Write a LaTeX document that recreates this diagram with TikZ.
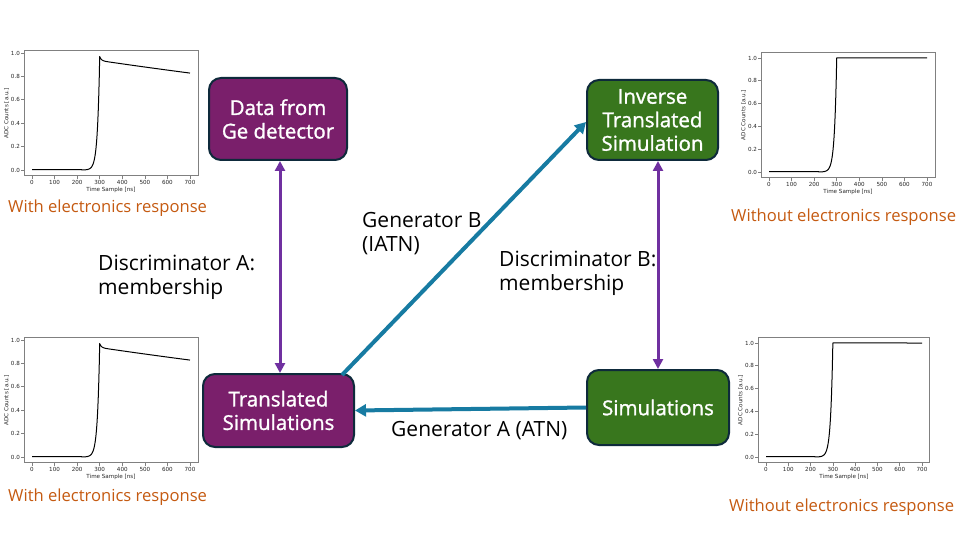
\documentclass[tikz,border=0pt]{standalone}
\usepackage{fontspec}
\setmainfont{Open Sans}
\newfontfamily\boxfont[FakeBold=1.3]{Open Sans}
\newfontfamily\plotfont{DejaVu Sans}
\usetikzlibrary{arrows.meta,calc}
\definecolor{boxpurple}{HTML}{7A1F6B}
\definecolor{boxgreen}{HTML}{38761D}
\definecolor{boxedge}{HTML}{0E2A3B}
\definecolor{arrpurple}{HTML}{7030A0}
\definecolor{arrblue}{HTML}{177BA2}
\definecolor{resp}{HTML}{C55A11}
\definecolor{framegray}{HTML}{808080}

\tikzset{
  procbox/.style={rounded corners=12pt, draw=boxedge, line width=2pt, text=white,
    align=center, inner sep=0pt, font=\boxfont\fontsize{20.5}{23.5}\selectfont},
  purplebox/.style={procbox, fill=boxpurple},
  greenbox/.style={procbox, fill=boxgreen},
  parrow/.style={draw=arrpurple, line width=3pt,
    {Triangle[width=10pt,length=10pt]}-{Triangle[width=10pt,length=10pt]}},
  barrow/.style={draw=arrblue, line width=4pt, -{Triangle[width=12pt,length=11pt]}},
  lbl/.style={inner sep=0pt, align=left, font=\fontsize{21}{24}\selectfont, text=black},
  resplbl/.style={inner sep=0pt, anchor=west, font=\fontsize{16.6}{20}\selectfont, text=resp},
  plotframe/.style={draw=framegray, line width=0.7pt},
  ticklab/.style={inner sep=0pt, font=\plotfont\fontsize{5.6}{6.5}\selectfont, text=black!85},
  curve/.style={draw=black, line width=1pt, line join=round}
}

\newcommand\ecurve{%
  \draw[curve] (0,0.003) -- (220,0.003)
    -- plot[domain=220:300, samples=40] (\x,{0.97*exp((\x-300)/10)})
    -- plot[domain=300:340, samples=30] (\x,{0.935*exp(-(\x-300)/3300)+0.035*exp(-(\x-300)/7)})
    -- plot[domain=340:700, samples=20] (\x,{0.935*exp(-(\x-300)/3300)});}
\newcommand\scurve{%
  \draw[curve] (0,0.003) -- (220,0.003)
    -- plot[domain=220:300, samples=40] (\x,{exp((\x-300)/10)})
    -- (700,1);}

% #1 x px of t=0, #2 y px of v=0, #3 x px of t=700, #4 y px of v=1, #5 ylo, #6 yhi, #7 curve
\newcommand\wplot[7]{%
  \pgfmathsetmacro\sxx{(#3-#1)/700}%
  \pgfmathsetmacro\syy{(#2-#4)}%
  \begin{scope}[shift={(#1,#2)}, x=\sxx pt, y=\syy pt]
    #7
    \draw[plotframe] (-35,#5) rectangle (735,#6);
    \foreach \t in {0,100,...,700} {
      \draw[plotframe] (\t,#5) -- ++(0,-3pt);
      \path (\t,#5) ++(0,-4pt) node[ticklab, anchor=north] {\t};
    }
    \foreach \v in {0.0,0.2,0.4,0.6,0.8,1.0} {
      \draw[plotframe] (-35,\v) -- ++(-3pt,0);
      \path (-35,\v) ++(-4pt,0) node[ticklab, anchor=east] {\v};
    }
    \path (350,#5) ++(0,-11pt) node[ticklab, anchor=north] {Time Sample [ns]};
    \path (-35,{(#5+#6)/2}) ++(-17.5pt,0) node[ticklab, rotate=90] {ADC Counts [a.u.]};
  \end{scope}}

\begin{document}
\begin{tikzpicture}[x=1pt, y=-1pt]
\useasboundingbox[fill=white] (0,0) rectangle (960,540);

% waveform plots
\wplot{32}{170}{190}{53}{-0.0485}{1.0185}{\ecurve}
\wplot{769}{172}{927}{58}{-0.05}{1.05}{\scurve}
\wplot{32}{457}{190}{340}{-0.0485}{1.0185}{\ecurve}
\wplot{766}{457}{922}{343}{-0.05}{1.05}{\scurve}

% boxes
\node[purplebox, minimum width=138pt, minimum height=82pt] (ge) at (278,119) {Data from\\Ge detector};
\node[greenbox, minimum width=131pt, minimum height=80pt] (inv) at (652.5,120) {Inverse\\Translated\\Simulation};
\node[purplebox, minimum width=151pt, minimum height=73pt] (trans) at (278.5,410.5) {Translated\\Simulations};
\node[greenbox, minimum width=142pt, minimum height=75pt] (sim) at (658,407.5) {Simulations};

% connectors
\draw[parrow] ([xshift=2pt]ge.south) -- ([xshift=1.5pt]trans.north);
\draw[parrow] (inv.south -| sim.north) -- (sim.north);
\coordinate (tstart) at ($(trans.north east)+(-13,2)$);
\draw[barrow] (tstart) -- ($(inv.west)+(0,2)$);
\draw[barrow] (sim.west) -- (trans.east);

% labels
\node[lbl, anchor=north west] (genb) at (362,212) {Generator B\\(IATN)};
\node[lbl, anchor=north west] (disa) at (98,254.5) {Discriminator A:\\membership};
\node[lbl, anchor=north west] (disb) at (499,251) {Discriminator B:\\membership};
\node[lbl, anchor=west] (gena) at (391,431) {Generator A (ATN)};

\node[resplbl] (r1) at (8,208) {With electronics response};
\node[resplbl] (r2) at (731,217) {Without electronics response};
\node[resplbl] (r3) at (8,497) {With electronics response};
\node[resplbl] (r4) at (729,507) {Without electronics response};
\end{tikzpicture}
\end{document}
